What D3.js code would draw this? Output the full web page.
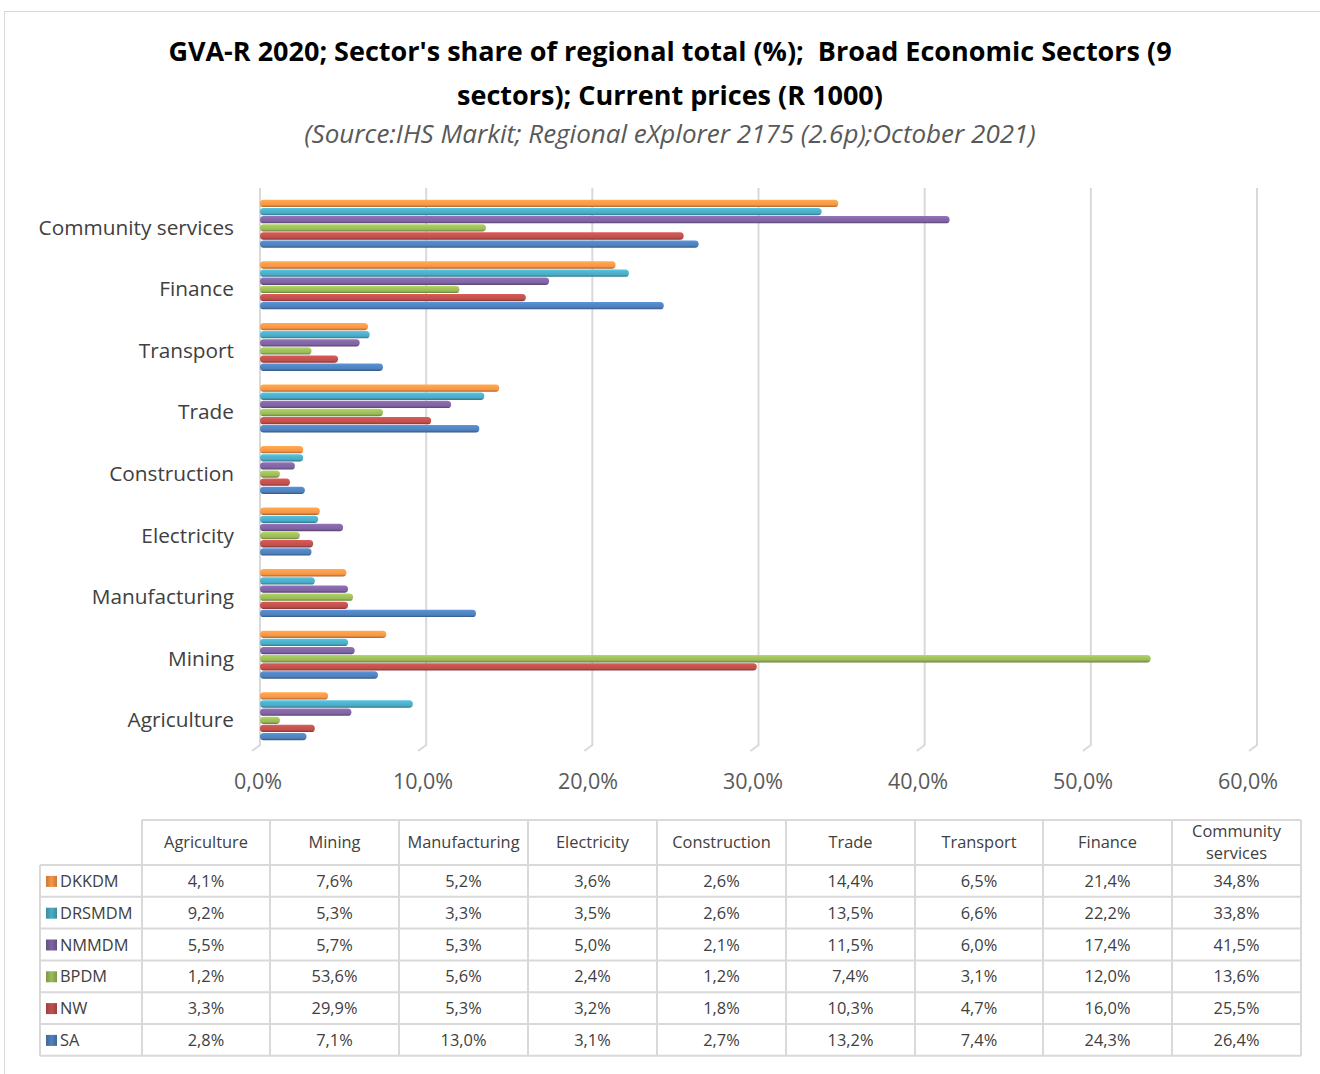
<!DOCTYPE html>
<html>
<head>
<meta charset="utf-8">
<script src="https://cdn.jsdelivr.net/npm/d3@7"></script>
<style>
  html, body { margin: 0; padding: 0; background: #fff; }
  svg { display: block; font-family: "Open Sans", Lato, sans-serif; }
</style>
</head>
<body>
<svg id="chart" width="1320" height="1074"></svg>
<script>
// Sectors, bottom-to-top on the chart and left-to-right in the table
const sectors = ["Agriculture", "Mining", "Manufacturing", "Electricity", "Construction",
                 "Trade", "Transport", "Finance", "Community services"];
const sectorHeaders = ["Agriculture", "Mining", "Manufacturing", "Electricity", "Construction",
                       "Trade", "Transport", "Finance", ["Community", "services"]];

// Regions (series), top bar to bottom bar within each sector
const regions = ["DKKDM", "DRSMDM", "NMMDM", "BPDM", "NW", "SA"];
const regionColors = ["#F79646", "#4BACC6", "#8064A2", "#9BBB59", "#C0504D", "#4F81BD"];

// Share of regional GVA (%), one array per region, in sector order
const dkkdm  = [4.1, 7.6, 5.2, 3.6, 2.6, 14.4, 6.5, 21.4, 34.8];
const drsmdm = [9.2, 5.3, 3.3, 3.5, 2.6, 13.5, 6.6, 22.2, 33.8];
const nmmdm  = [5.5, 5.7, 5.3, 5.0, 2.1, 11.5, 6.0, 17.4, 41.5];
const bpdm   = [1.2, 53.6, 5.6, 2.4, 1.2, 7.4, 3.1, 12.0, 13.6];
const nw     = [3.3, 29.9, 5.3, 3.2, 1.8, 10.3, 4.7, 16.0, 25.5];
const sa     = [2.8, 7.1, 13.0, 3.1, 2.7, 13.2, 7.4, 24.3, 26.4];
const seriesValues = [dkkdm, drsmdm, nmmdm, bpdm, nw, sa];

const xTicks = [0, 10, 20, 30, 40, 50, 60];

const titleLines = ["GVA-R 2020; Sector's share of regional total (%);  Broad Economic Sectors (9",
                    "sectors); Current prices (R 1000)"];
const subtitle = "(Source:IHS Markit; Regional eXplorer 2175 (2.6p);October 2021)";

const fmt = v => d3.format(".1f")(v).replace(".", ",") + "%";

const svg = d3.select("#chart");
const grid = "#d9d9d9";
const textCol = "#404040";

// Outer chart frame
svg.append("rect").attr("x", 4.5).attr("y", 11.5).attr("width", 1330).attr("height", 1080)
  .attr("fill", "none").attr("stroke", grid).attr("stroke-width", 1);

// Titles
const title = svg.append("text").attr("text-anchor", "middle").attr("xml:space", "preserve")
  .attr("font-weight", "bold").attr("font-size", 27).attr("fill", "#000");
titleLines.forEach((t, i) => title.append("tspan").attr("x", 670).attr("y", 61 + i * 44).text(t));
svg.append("text").attr("x", 670).attr("y", 143).attr("text-anchor", "middle")
  .attr("font-style", "italic").attr("font-size", 26).attr("fill", "#595959").text(subtitle);

// Scales: bars/gridlines on the back wall, tick labels on the front edge of the floor
const x = d3.scaleLinear().domain([0, 60]).range([260, 1257]);
const xLabel = d3.scaleLinear().domain([0, 60]).range([258, 1248]);
const y = d3.scaleBand().domain(sectors.slice().reverse()).range([193, 747]);
const yInner = d3.scaleBand().domain(regions).range([-24, 24]).paddingInner(0.1);

// Gradients give the bars their rounded, cylinder-like shading
const defs = svg.append("defs");
regionColors.forEach((c, i) => {
  const g = defs.append("linearGradient").attr("id", "grad" + i)
    .attr("x1", 0).attr("y1", 0).attr("x2", 0).attr("y2", 1);
  const base = d3.color(c);
  g.append("stop").attr("offset", 0).attr("stop-color", base.brighter(0.4));
  g.append("stop").attr("offset", 0.35).attr("stop-color", base.brighter(0.15));
  g.append("stop").attr("offset", 0.7).attr("stop-color", base);
  g.append("stop").attr("offset", 1).attr("stop-color", base.darker(1.1));

  const k = defs.append("linearGradient").attr("id", "key" + i)
    .attr("x1", 0).attr("y1", 0).attr("x2", 1).attr("y2", 0);
  k.append("stop").attr("offset", 0).attr("stop-color", base.darker(0.6));
  k.append("stop").attr("offset", 0.5).attr("stop-color", base);
  k.append("stop").attr("offset", 1).attr("stop-color", base.darker(0.6));
});

// Vertical gridlines with a small slanted foot (3D floor)
const gTop = 188, gBot = 745;
const gridG = svg.append("g");
xTicks.forEach(t => {
  gridG.append("path")
    .attr("d", `M${x(t)},${gTop}V${gBot}L${x(t) - 8},${gBot + 6}`)
    .attr("fill", "none").attr("stroke", grid).attr("stroke-width", 2);
});

// X tick labels
svg.append("g").selectAll("text").data(xTicks).join("text")
  .attr("x", d => xLabel(d)).attr("y", 789).attr("text-anchor", "middle")
  .attr("font-size", 21.5).attr("fill", "#595959").text(d => fmt(d));

// Category labels
svg.append("g").selectAll("text").data(sectors).join("text")
  .attr("x", 234).attr("y", d => y(d) + y.bandwidth() / 2 + 11)
  .attr("text-anchor", "end").attr("font-size", 20.8).attr("fill", textCol).text(d => d);

// Bars
const bh = yInner.bandwidth();
regions.forEach((r, ri) => {
  svg.append("g").selectAll("rect").data(seriesValues[ri]).join("rect")
    .attr("x", x(0))
    .attr("y", (d, i) => y(sectors[i]) + y.bandwidth() / 2 + yInner(r))
    .attr("width", d => x(d) - x(0))
    .attr("height", bh)
    .attr("rx", bh / 2).attr("ry", bh / 2)
    .attr("fill", `url(#grad${ri})`);
});

// Data table
const colX = [40, 142, 270, 399, 528, 657, 786, 915, 1043, 1172, 1301];
const headTop = 820, rowTop = 865, rowH = 31.8;
const tbl = svg.append("g");
const line = (x1, y1, x2, y2) => tbl.append("line")
  .attr("x1", x1).attr("y1", y1).attr("x2", x2).attr("y2", y2)
  .attr("stroke", grid).attr("stroke-width", 2);

// Grid of the table
line(colX[1], headTop, colX[10], headTop);
for (let r = 0; r <= regions.length; r++) line(colX[0], rowTop + r * rowH, colX[10], rowTop + r * rowH);
line(colX[0], rowTop, colX[0], rowTop + regions.length * rowH);
for (let c = 1; c < colX.length; c++) line(colX[c], headTop, colX[c], rowTop + regions.length * rowH);

// Header text
sectorHeaders.forEach((h, i) => {
  const cx = (colX[i + 1] + colX[i + 2]) / 2;
  const t = tbl.append("text").attr("text-anchor", "middle").attr("font-size", 16.4).attr("fill", textCol);
  if (Array.isArray(h)) {
    h.forEach((s, j) => t.append("tspan").attr("x", cx).attr("y", 837 + j * 22).text(s));
  } else {
    t.attr("x", cx).attr("y", 848).text(h);
  }
});

// Row headers with legend keys, and values
regions.forEach((r, ri) => {
  const cy = rowTop + ri * rowH + rowH / 2;
  tbl.append("rect").attr("x", 46).attr("y", cy - 5).attr("width", 11).attr("height", 11)
    .attr("fill", `url(#key${ri})`);
  tbl.append("text").attr("x", 60).attr("y", cy + 6).attr("font-size", 16.4).attr("fill", textCol).text(r);
  seriesValues[ri].forEach((v, i) => {
    tbl.append("text").attr("x", (colX[i + 1] + colX[i + 2]) / 2).attr("y", cy + 6)
      .attr("text-anchor", "middle").attr("font-size", 16.4).attr("fill", textCol).text(fmt(v));
  });
});
</script>
</body>
</html>
